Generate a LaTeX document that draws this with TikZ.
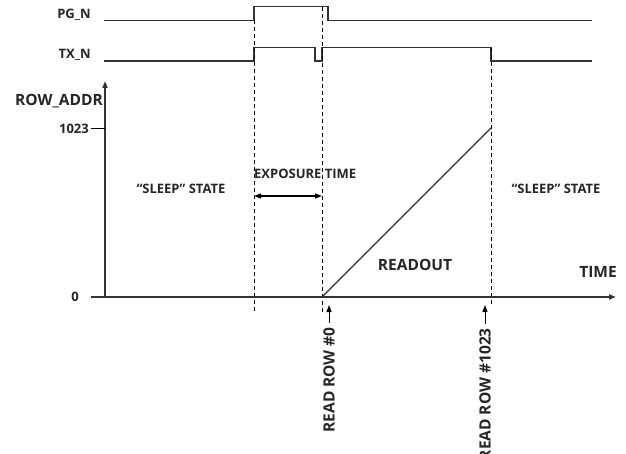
\documentclass[tikz,border=0pt]{standalone}
\usepackage{fontspec}
\setmainfont{Open Sans}
\usetikzlibrary{arrows.meta}
\begin{document}
\begin{tikzpicture}[x=1pt,y=-1pt,
  sig/.style={line width=1.4pt,draw=black!80},
  axis/.style={line width=2pt,draw=black!80},
  guide/.style={line width=0.8pt,dashed,dash pattern=on 4pt off 3pt},
  lbl/.style={font=\bfseries\fontsize{13}{15}\selectfont,text=black!85,inner sep=0pt},
  biglbl/.style={font=\bfseries\fontsize{15.5}{17}\selectfont,text=black!85,inner sep=0pt},
  tip/.style={-{Triangle[length=7pt,width=5pt]}}]
\useasboundingbox (0,0) rectangle (626,454);
% signal labels
\node[lbl,anchor=east] (pg) at (91,14.5) {PG\_N};
\node[lbl,anchor=east] (tx) at (91,55) {TX\_N};
% PG_N waveform
\draw[sig] (104,20.5) -- (254,20.5) -- (254,6.5) -- (328,6.5) -- (328,20.5) -- (592,20.5);
% TX_N waveform
\draw[sig] (104,61) -- (254,61) -- (254,47.5) -- (315,47.5) -- (315,61) -- (322,61) -- (322,47.5) -- (491,47.5) -- (491,61) -- (592,61);
% guide lines
\draw[guide] (254,20) -- (254,312);
\draw[guide] (322,7) -- (322,312);
\draw[guide] (491,48) -- (491,304);
% axes
\coordinate (orig) at (105,297);
\coordinate (ytop) at (105,81);
\coordinate (xend) at (616,297);
\draw[axis,tip] (orig) -- (ytop);
\draw[axis,tip] (91,297) -- (xend);
\node[biglbl,anchor=east] (ya) at (103,101) {ROW\_ADDR};
\draw[line width=1pt] (91,129) -- (105,129);
\node[lbl,anchor=east] (t1023) at (89,129) {1023};
\node[lbl,anchor=east] (t0) at (79,297) {0};
% readout ramp
\coordinate (r0) at (322,297);
\coordinate (r1) at (491,128);
\draw[line width=1.4pt,draw=black!80] (r0) -- (r1);
% region labels
\node[lbl] (sleepL) at (181,189) {``SLEEP'' STATE};
\node[lbl] (sleepR) at (556,189) {``SLEEP'' STATE};
\node[lbl,anchor=west] (exp) at (254,174) {EXPOSURE TIME};
\coordinate (ea) at (254,196);
\coordinate (eb) at (322,196);
\draw[line width=1.4pt,{Triangle[length=7pt,width=5pt]}-{Triangle[length=7pt,width=5pt]}] (ea) -- (eb);
\node[biglbl] (ro) at (415,265) {READOUT};
\node[biglbl] (time) at (598,272) {TIME};
% read row labels
\node[biglbl,rotate=90,anchor=east] (rr0) at (329,327) {READ ROW \#0};
\node[biglbl,rotate=90,anchor=east] (rr1) at (485,328) {READ ROW \#1023};
\draw[line width=1pt,tip] ([yshift=4pt]rr0.east) -- (329,305);
\draw[line width=1pt,tip] ([yshift=4pt]rr1.east) -- (485,305);
\end{tikzpicture}
\end{document}
